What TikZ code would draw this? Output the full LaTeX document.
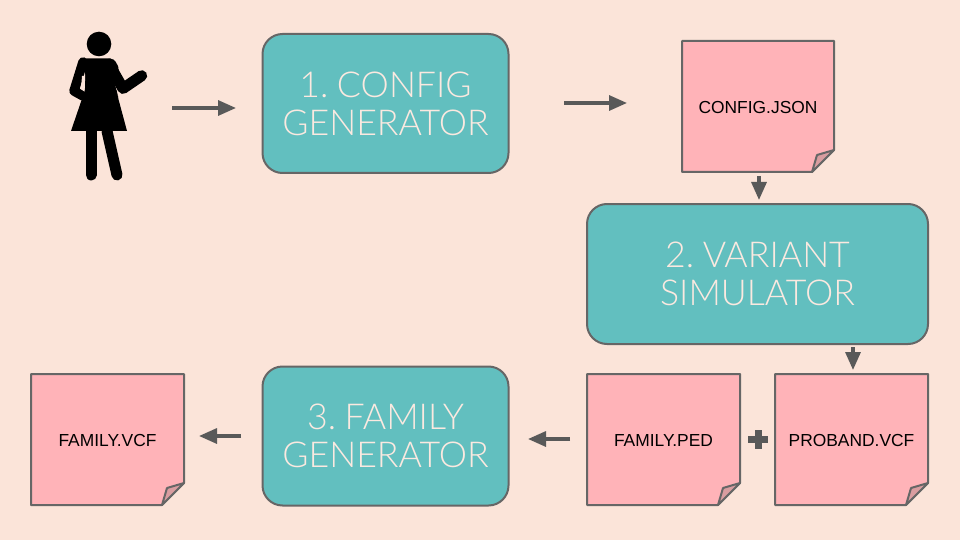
\documentclass[tikz,border=0pt]{standalone}
\usepackage{fontspec}
\setmainfont{Liberation Sans}
\newfontfamily\boxfont[WordSpace=0.55]{Lato Light}
\usetikzlibrary{arrows.meta}
\definecolor{bgc}{HTML}{FBE4D9}
\definecolor{teal}{HTML}{62BFBF}
\definecolor{pinkn}{HTML}{FFB3B8}
\definecolor{foldc}{HTML}{D99DA0}
\definecolor{linec}{HTML}{666666}
\definecolor{arrowc}{HTML}{595959}
\definecolor{textl}{HTML}{FBE9E0}
\tikzset{
  x=1pt,y=-1pt,
  stepbox/.style={draw=linec,line width=2pt,fill=teal,rounded corners=20pt,inner sep=0pt,
    text=textl,font=\boxfont\fontsize{35.7}{38}\selectfont,align=center},
  notetext/.style={inner sep=0pt,text=black,font=\fontsize{17.4}{20}\selectfont,minimum width=1pt},
  noteline/.style={draw=linec,line width=2pt,line join=round},
  flow/.style={draw=arrowc,line width=3.2pt,-{Triangle[length=18pt,width=15pt,fill=arrowc]}},
  limb/.style={draw=black,line width=11pt,line cap=round,line join=round},
}
% x0,y0,x1,y1 are the note's corners; 22 is the size of the cut corner
\newcommand{\stickynote}[6]{%
  \path[noteline,fill=pinkn] (#2,#3) -- (#4,#3) -- (#4,#5-22) -- (#4-22,#5) -- (#2,#5) -- cycle;
  \path[noteline,fill=foldc] (#4,#5-22) -- (#4-17,#5-17) -- (#4-22,#5) -- cycle;
  \node[notetext] (#1) at ({(#2+#4)/2},{(#3+#5)/2+1}) {#6};
}
\begin{document}
\begin{tikzpicture}
\useasboundingbox[fill=bgc] (0,0) rectangle (960,540);

% person
\fill[black] (99,44) circle (12.3);
\draw[limb,line width=9.5pt] (83,62) -- (74,91) -- (83,96);
\draw[limb] (109,64) -- (123,88.5) -- (141.7,75.7);
\fill[bgc] (82,76) -- (86,76) -- (85,92) -- (81,89) -- cycle;
\fill[black,rounded corners=4pt] (81,58.5) -- (114,58.5) -- (120,70) -- (112.5,77) -- (118,95) -- (118,100) -- (84,100) -- (85,90) -- (85.5,72) -- cycle;
\fill[black] (112.5,77) -- (127,131) -- (71,131) -- (85,90) -- (85.5,72) -- cycle;
\draw[limb] (91,131) -- (91,175);
\draw[limb] (107,131) -- (117,175);
\coordinate (person) at (172,108);
\coordinate (gap1) at (236,108);

% process boxes
\node[stepbox,minimum width=246pt,minimum height=139pt] (cfg) at (385.5,103.5) {1. CONFIG\\GENERATOR};
\node[stepbox,minimum width=341pt,minimum height=140pt] (var) at (757.5,274) {2. VARIANT\\SIMULATOR};
\node[stepbox,minimum width=246pt,minimum height=139pt] (fam) at (385.5,436) {3. FAMILY\\GENERATOR};

% notes
\stickynote{json}{682}{41}{834}{172}{CONFIG.JSON}
\stickynote{ped}{587}{374}{740}{505}{FAMILY.PED}
\stickynote{prob}{775}{374}{928}{505}{PROBAND.VCF}
\stickynote{fvcf}{31}{374}{184}{505}{FAMILY.VCF}

% plus sign
\fill[arrowc] (748,436) rectangle (768,443);
\fill[arrowc] (754.5,430) rectangle (761.5,449);

% connectors
\coordinate (a2s) at (564,103);
\coordinate (a2e) at (627,103);
\coordinate (a3s) at (759,176);
\coordinate (a3e) at (759,200);
\coordinate (a4s) at (853,347);
\coordinate (a4e) at (853,370);
\coordinate (a5s) at (570,439);
\coordinate (a5e) at (528,439);
\coordinate (a6s) at (241,436);
\coordinate (a6e) at (199,436);
\draw[flow] (person) -- (gap1);
\draw[flow] (a2s) -- (a2e);
\draw[flow] (a3s) -- (a3e);
\draw[flow] (a4s) -- (a4e);
\draw[flow] (a5s) -- (a5e);
\draw[flow] (a6s) -- (a6e);
\end{tikzpicture}
\end{document}
